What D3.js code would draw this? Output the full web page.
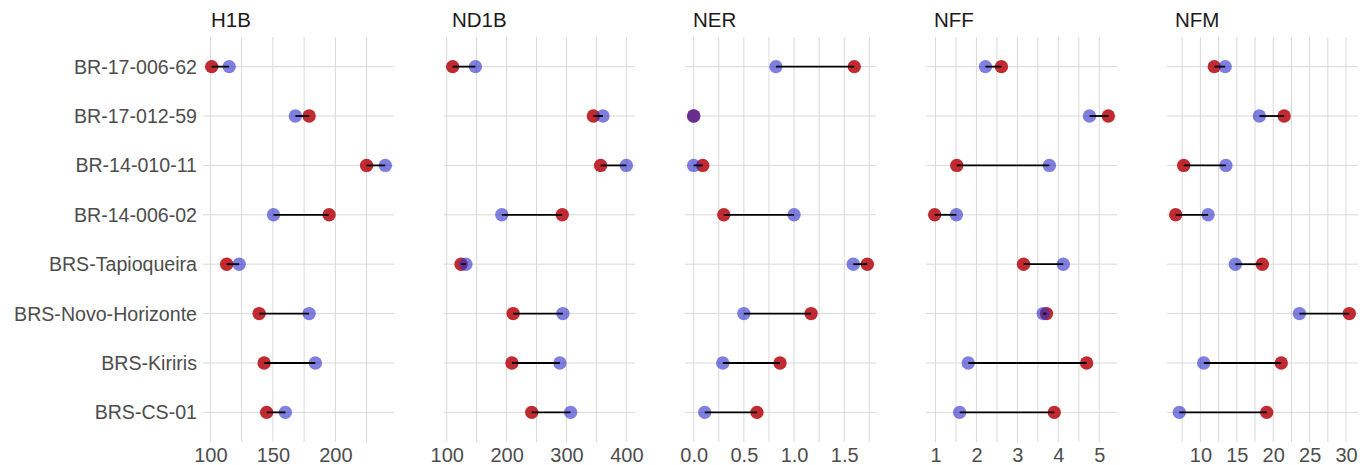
<!DOCTYPE html>
<html>
<head>
  <script src="https://d3js.org/d3.v7.min.js"></script>
  <meta charset="utf-8">
  <title>Dumbbell panels</title>
  <style>
    body { margin: 0; background: #fff; }
    text { font-family: "Liberation Sans", Arial, sans-serif; }
  </style>
</head>
<body>
<script>
  // genotypes, top to bottom
  var genotypes = ["BR-17-006-62", "BR-17-012-59", "BR-14-010-11", "BR-14-006-02",
                   "BRS-Tapioqueira", "BRS-Novo-Horizonte", "BRS-Kiriris", "BRS-CS-01"];

  var traits = ["H1B", "ND1B", "NER", "NFF", "NFM"];

  // red points (first group)
  var H1B_red  = [101, 179, 225, 195, 113, 139, 143, 145];
  var ND1B_red = [110, 345, 357, 293, 124, 211, 209, 242];
  var NER_red  = [1.60, 0.00, 0.09, 0.30, 1.73, 1.17, 0.86, 0.63];
  var NFF_red  = [2.61, 5.22, 1.52, 0.98, 3.15, 3.71, 4.69, 3.90];
  var NFM_red  = [11.9, 21.5, 7.7, 6.6, 18.5, 30.45, 21.1, 19.1];

  // blue points (second group)
  var H1B_blue  = [115, 168, 240, 150.5, 123, 179, 184, 160];
  var ND1B_blue = [148, 361, 400, 192, 132, 294, 289, 307];
  var NER_blue  = [0.82, 0.00, 0.00, 1.00, 1.59, 0.50, 0.29, 0.11];
  var NFF_blue  = [2.22, 4.76, 3.78, 1.51, 4.12, 3.63, 1.80, 1.59];
  var NFM_blue  = [13.4, 18.1, 13.5, 11.05, 14.8, 23.6, 10.45, 7.1];

  // tick labels of each panel
  var H1B_ticks  = [100, 150, 200];
  var ND1B_ticks = [100, 200, 300, 400];
  var NER_ticks  = [0.0, 0.5, 1.0, 1.5];
  var NFF_ticks  = [1, 2, 3, 4, 5];
  var NFM_ticks  = [10, 15, 20, 25, 30];

  var redSeries  = [H1B_red, ND1B_red, NER_red, NFF_red, NFM_red];
  var blueSeries = [H1B_blue, ND1B_blue, NER_blue, NFF_blue, NFM_blue];
  var tickSets   = [H1B_ticks, ND1B_ticks, NER_ticks, NFF_ticks, NFM_ticks];
  var tickFormats = [d3.format("d"), d3.format("d"), d3.format(".1f"), d3.format("d"), d3.format("d")];

  var width = 1371, height = 465;
  var panel = { left: 203, width: 191, step: 241, top: 37, bottom: 442 };

  var svg = d3.select("body")
              .append("svg")
              .attr("width", width)
              .attr("height", height);

  var yScale = d3.scalePoint()
                 .domain(genotypes)
                 .range([panel.top, panel.bottom])
                 .padding(0.6);

  var grid = "#d9d9d9";
  var redFill = "#b8141a", blueFill = "#3030cc";

  // row labels
  svg.selectAll(".row_label")
     .data(genotypes)
     .enter()
     .append("text")
     .classed("row_label", true)
     .attr("x", 197)
     .attr("y", function(d){ return yScale(d); })
     .attr("dy", "0.36em")
     .style("text-anchor", "end")
     .style("font-size", "19.6px")
     .style("fill", "#4d4d4d")
     .text(function(d){ return d; });

  traits.forEach(function(trait, p){
    var x0 = panel.left + p * panel.step;
    var red = redSeries[p], blue = blueSeries[p];
    var all = red.concat(blue);
    var lo = d3.min(all), hi = d3.max(all), pad = (hi - lo) * 0.05;

    var xScale = d3.scaleLinear()
                   .domain([lo - pad, hi + pad])
                   .range([x0, x0 + panel.width]);

    var g = svg.append("g").classed("panel", true);

    // major + minor vertical grid lines
    var ticks = tickSets[p];
    var half = (ticks[1] - ticks[0]) / 2;
    var gridVals = [];
    for (var v = ticks[0] - half; v <= hi + pad + 1e-9; v += half) {
      if (v >= lo - pad) gridVals.push(v);
    }

    g.selectAll(".vgrid")
     .data(gridVals)
     .enter()
     .append("line")
     .attr("x1", function(d){ return xScale(d); })
     .attr("x2", function(d){ return xScale(d); })
     .attr("y1", panel.top)
     .attr("y2", panel.bottom)
     .style("stroke", grid)
     .style("stroke-width", 1);

    g.selectAll(".hgrid")
     .data(genotypes)
     .enter()
     .append("line")
     .attr("x1", x0)
     .attr("x2", x0 + panel.width)
     .attr("y1", function(d){ return yScale(d); })
     .attr("y2", function(d){ return yScale(d); })
     .style("stroke", grid)
     .style("stroke-width", 1);

    // axis at bottom, text only
    var axis = d3.axisBottom(xScale)
                 .tickValues(ticks)
                 .tickFormat(tickFormats[p])
                 .tickSize(0)
                 .tickPadding(0);

    var ax = g.append("g")
              .attr("transform", "translate(0," + 448 + ")")
              .call(axis);
    ax.select(".domain").remove();
    ax.selectAll("text")
      .attr("dy", "0.71em")
      .style("font-family", "'Liberation Sans', Arial, sans-serif")
      .style("font-size", "20px")
      .style("fill", "#4d4d4d");

    // panel title
    g.append("text")
     .attr("x", x0 + 8)
     .attr("y", 27)
     .style("font-size", "20.5px")
     .style("fill", "#1a1a1a")
     .text(trait);

    var rows = genotypes.map(function(d, i){
      return { name: d, red: red[i], blue: blue[i] };
    });

    g.selectAll(".red_pt")
     .data(rows)
     .enter()
     .append("circle")
     .attr("r", 6.7)
     .attr("cx", function(d){ return xScale(d.red); })
     .attr("cy", function(d){ return yScale(d.name); })
     .style("fill", redFill)
     .style("opacity", 0.9);

    g.selectAll(".blue_pt")
     .data(rows)
     .enter()
     .append("circle")
     .attr("r", 6.7)
     .attr("cx", function(d){ return xScale(d.blue); })
     .attr("cy", function(d){ return yScale(d.name); })
     .style("fill", blueFill)
     .style("opacity", 0.62);

    g.selectAll(".seg")
     .data(rows)
     .enter()
     .append("line")
     .attr("x1", function(d){ return xScale(d.red); })
     .attr("x2", function(d){ return xScale(d.blue); })
     .attr("y1", function(d){ return yScale(d.name); })
     .attr("y2", function(d){ return yScale(d.name); })
     .style("stroke", "#000")
     .style("stroke-width", 1.8);
  });
</script>
</body>
</html>
